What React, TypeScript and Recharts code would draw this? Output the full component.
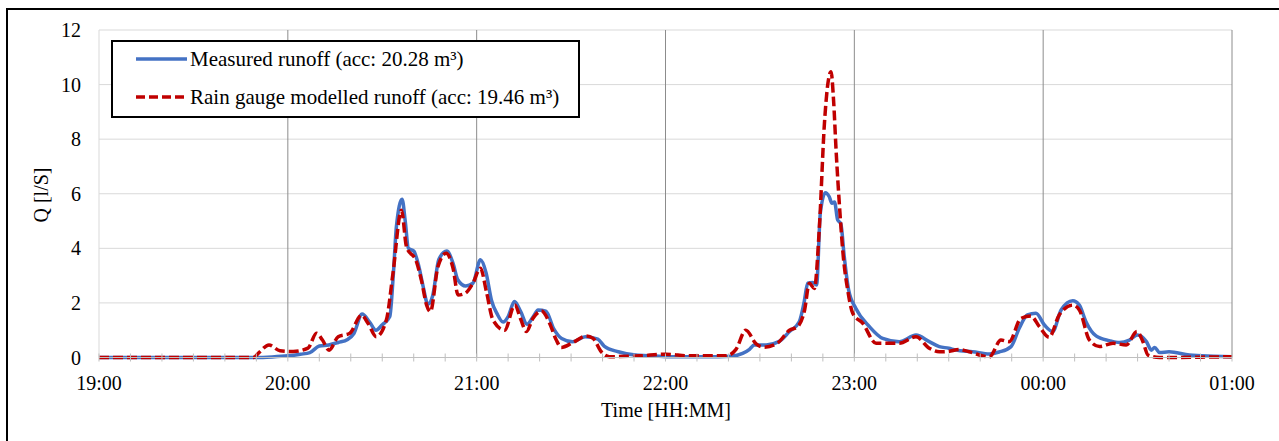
import React from 'react';
import { LineChart, Line, XAxis, YAxis, CartesianGrid, ReferenceLine } from 'recharts';

const FONT = '"Liberation Serif", "Times New Roman", serif';

// time in minutes after 19:00
const measuredTime = [
  0, 45, 50, 55, 60, 64, 67, 70, 73, 76, 79, 81, 83.6, 86, 88, 90, 92.4, 93.5, 94.5, 96.3,
  97.3, 98.3, 100, 101.5, 103, 104.5, 106, 108, 110.5, 112.5, 114, 116.5, 118.8, 121.2, 123, 124.7,
  126.5, 128.4, 130, 132, 134, 136, 138, 139.5, 142, 144.5, 147, 150.5, 154.5, 158.5, 160.5, 165,
  170.5, 176, 182, 193, 201, 204.5, 206.7, 208.2, 212, 216, 219.4, 222.5, 224, 225.2, 226.8, 228,
  229.2, 230.8, 232, 232.9, 233.7, 234.7, 235.7, 236.8, 238.2, 240.5, 244.8, 249, 254.3, 259.6,
  263.8, 267, 270, 272.3, 277.6, 283, 286, 289.8, 292.4, 295, 297.7, 300.4, 303, 305.7, 309.4,
  311.5, 313.6, 316.8, 321, 324.3, 327.4, 330, 332.8, 334.4, 335.4, 337, 340, 346.5, 354, 360,
];
const measuredQ = [
  0, 0, 0, 0.02, 0.06, 0.12, 0.18, 0.42, 0.46, 0.55, 0.66, 0.88, 1.59, 1.3, 1.0, 1.2, 1.5, 3.0, 4.8, 5.8,
  5.0, 4.0, 3.9, 3.4, 2.6, 1.95, 2.25, 3.6, 3.9, 3.45, 2.85, 2.62, 2.72, 3.58, 3.1, 2.1,
  1.6, 1.3, 1.5, 2.05, 1.68, 1.22, 1.5, 1.74, 1.7, 1.05, 0.7, 0.58, 0.76, 0.67, 0.42, 0.21,
  0.09, 0.06, 0.03, 0.03, 0.05, 0.15, 0.3, 0.46, 0.46, 0.58, 0.95, 1.31, 2.0, 2.72, 2.75, 2.66,
  5.3, 6.04, 5.9, 5.65, 5.7, 5.04, 4.9, 3.69, 2.47, 1.8, 1.13, 0.7, 0.58, 0.82,
  0.58, 0.4, 0.34, 0.27, 0.21, 0.13, 0.2, 0.4, 1.07, 1.56, 1.62, 1.19, 0.95, 1.74, 2.08,
  1.92, 1.31, 0.79, 0.62, 0.55, 0.64, 0.82, 0.58, 0.27, 0.37, 0.18, 0.21, 0.09, 0.05, 0.03,
];

const modelledTime = [
  0, 49, 51, 54, 57.5, 61.7, 66.4, 69.1, 71, 73.1, 76, 79.7, 83.4, 85.5, 88.1, 91.3, 93.4, 96.1,
  97.7, 100.9, 102.5, 104.1, 105.3, 107.7, 110.3, 112.5, 114.1, 116.3, 118.8, 121.2, 123.1, 125.2,
  128.9, 132.1, 134, 135.8, 137.9, 140.6, 143.2, 145.3, 146.9, 150.6, 154.8, 157, 159.6, 162.2,
  171.7, 180.2, 187.6, 199.2, 202.4, 205.5, 208.8, 211.4, 215.6, 219.4, 222, 224.2, 225.7, 227.3,
  228.9, 230.5, 231.6, 232.6, 233.4, 234.2, 235.3, 236.5, 237.9, 239.5, 242.7, 246.9, 254.3, 259.6,
  263.8, 267, 269.7, 273.4, 276.5, 282.9, 286.6, 289.2, 292.9, 296.1, 298.8, 301.9, 305.1, 309.4,
  311.5, 314.7, 317.9, 322.2, 326.4, 329.8, 331.7, 333.3, 337, 360,
];
const modelledQ = [
  0, 0, 0.2, 0.46, 0.25, 0.22, 0.34, 0.89, 0.64, 0.27, 0.76, 0.89, 1.55, 1.25, 0.76, 1.37, 3.08, 5.4,
  4.06, 3.5, 2.8, 1.92, 1.68, 3.33, 3.82, 3.27, 2.29, 2.35, 2.72, 3.27, 2.41, 1.37,
  1.0, 1.92, 1.4, 0.95, 1.44, 1.7, 1.25, 0.64, 0.37, 0.55, 0.79, 0.7, 0.21, 0.03,
  0.06, 0.12, 0.06, 0.06, 0.3, 1.0, 0.5, 0.38, 0.53, 1.0, 1.13, 1.74, 2.72, 2.53,
  4.79, 8.58, 10.04, 10.47, 9.43, 7.6, 5.52, 3.69, 2.47, 1.62, 1.25, 0.52, 0.52, 0.76,
  0.34, 0.21, 0.22, 0.29, 0.21, 0.02, 0.64, 0.58, 1.43, 1.52, 1.13, 0.74, 1.56, 1.92,
  1.74, 0.64, 0.4, 0.52, 0.46, 0.95, 0.58, 0.09, 0.0, 0.03,
];

const xTicks = [
  0, 10, 20, 30, 40, 50, 60, 70, 80, 90, 100, 110, 120, 130, 140, 150, 160, 170, 180, 190, 200,
  210, 220, 230, 240, 250, 260, 270, 280, 290, 300, 310, 320, 330, 340, 350, 360,
];
const hourTicks = [0, 60, 120, 180, 240, 300, 360];
const hourLabels = ['19:00', '20:00', '21:00', '22:00', '23:00', '00:00', '01:00'];
const yTicks = [0, 2, 4, 6, 8, 10, 12];

const seriesNames = ['Measured runoff (acc: 20.28 m³)', 'Rain gauge modelled runoff (acc: 19.46 m³)'];

const measuredData = measuredTime.map((t, i) => ({ t, q: measuredQ[i] }));
const modelledData = modelledTime.map((t, i) => ({ t, q: modelledQ[i] }));

const BLUE = '#4472C4';
const RED = '#C00000';

function XTick(props: any) {
  const { x, y, payload } = props;
  const idx = hourTicks.indexOf(payload.value);
  return (
    <g>
      <line x1={x} x2={x} y1={y - 4} y2={y + 4} stroke="#bfbfbf" strokeWidth={1} />
      {idx >= 0 && (
        <text x={x} y={y + 32} textAnchor="middle" fontSize={20} fontFamily={FONT} fill="#000">
          {hourLabels[idx]}
        </text>
      )}
    </g>
  );
}

export default function App() {
  return (
    <div style={{ position: 'absolute', left: 0, top: 0, width: 1279, height: 441, overflow: 'hidden', background: '#fff' }}>
      <LineChart
        width={1279}
        height={441}
        margin={{ top: 30, right: 47, left: 0, bottom: 43.5 }}
        style={{ fontFamily: FONT }}
      >
        <CartesianGrid horizontal vertical={false} stroke="#d9d9d9" strokeWidth={1} />
        {hourTicks.slice(1).map((h) => (
          <ReferenceLine key={h} x={h} stroke="#8c8c8c" strokeWidth={1} />
        ))}
        <XAxis
          type="number"
          dataKey="t"
          domain={[0, 360]}
          ticks={xTicks}
          interval={0}
          height={40}
          tickSize={0}
          tickMargin={0}
          tickLine={false}
          axisLine={{ stroke: '#bfbfbf', strokeWidth: 1 }}
          tick={<XTick />}
          allowDataOverflow
        />
        <YAxis
          type="number"
          domain={[0, 12]}
          ticks={yTicks}
          width={99}
          tickSize={0}
          tickMargin={18}
          tickLine={false}
          axisLine={{ stroke: '#d9d9d9', strokeWidth: 1 }}
          tick={{ fill: '#000', fontSize: 20, fontFamily: FONT }}
        />
        <Line
          data={measuredData}
          dataKey="q"
          type="monotone"
          stroke={BLUE}
          strokeWidth={3.5}
          dot={false}
          activeDot={false}
          isAnimationActive={false}
          name={seriesNames[0]}
        />
        <Line
          data={modelledData}
          dataKey="q"
          type="monotone"
          stroke={RED}
          strokeWidth={3.5}
          strokeDasharray="10 4"
          dot={false}
          activeDot={false}
          isAnimationActive={false}
          name={seriesNames[1]}
        />
      </LineChart>
      <svg
        width={1279}
        height={441}
        style={{ position: 'absolute', left: 0, top: 0, pointerEvents: 'none', fontFamily: FONT }}
      >
        <path d="M 7 445 L 7 9 L 1285 9" fill="none" stroke="#000" strokeWidth={2} />
        <rect x={112} y={41} width={467} height={76} fill="#fff" stroke="#000" strokeWidth={2} />
        <line x1={136} x2={187} y1={59} y2={59} stroke={BLUE} strokeWidth={3.5} />
        <text x={190} y={65.5} fontSize={21} fill="#000">{seriesNames[0]}</text>
        <line x1={136} x2={187} y1={97} y2={97} stroke={RED} strokeWidth={3.5} strokeDasharray="9 4" />
        <text x={190} y={104} fontSize={21} fill="#000">{seriesNames[1]}</text>
        <text
          x={41}
          y={195}
          fontSize={20}
          fill="#000"
          textAnchor="middle"
          dominantBaseline="central"
          transform="rotate(-90 41 195)"
        >
          Q [l/S]
        </text>
        <text x={666} y={417} fontSize={20} fill="#000" textAnchor="middle">
          Time [HH:MM]
        </text>
      </svg>
    </div>
  );
}
